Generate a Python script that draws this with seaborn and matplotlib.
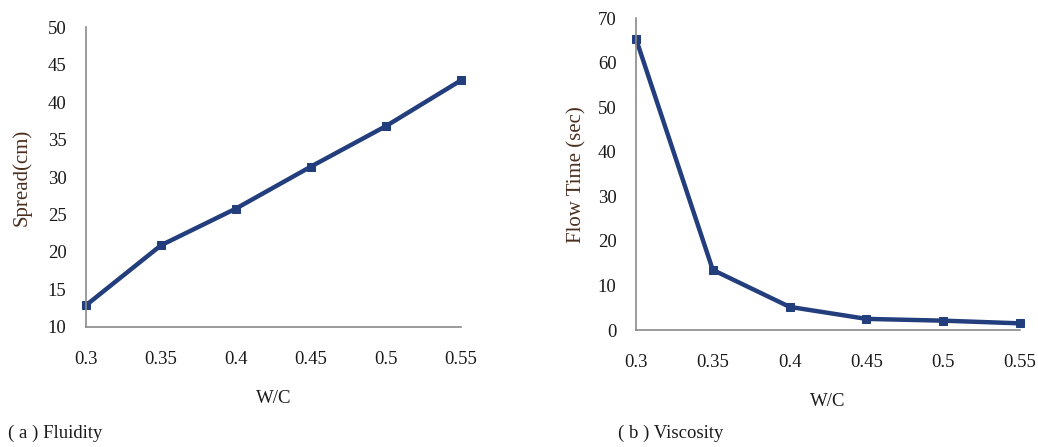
import matplotlib
matplotlib.use("Agg")
import matplotlib.pyplot as plt
import seaborn as sns
import pandas as pd

# Water/cement ratios shared by both panels
wc_ratio = [0.30, 0.35, 0.40, 0.45, 0.50, 0.55]
# (a) flow spread in cm
spread_cm = [12.9, 20.9, 25.8, 31.4, 36.8, 42.9]
# (b) funnel flow time in seconds
flow_time_sec = [65.4, 13.5, 5.2, 2.5, 2.1, 1.5]

x_ticks = [0.3, 0.35, 0.4, 0.45, 0.5, 0.55]
x_tick_labels = ["0.3", "0.35", "0.4", "0.45", "0.5", "0.55"]

sns.set_theme(style="white")
plt.rcParams["font.family"] = ["Liberation Serif", "DejaVu Serif"]

LINE = "#233e7c"
SPINE = "#8a8a8a"
TICKTXT = "#1a1a1a"
YLAB = "#4a2e1e"

fig = plt.figure(figsize=(10.38, 4.47), dpi=100)
ax_a = fig.add_axes([0.0829, 0.2685, 0.3613, 0.671])
ax_b = fig.add_axes([0.6127, 0.2617, 0.3700, 0.6973])

df = pd.DataFrame({"wc": wc_ratio, "spread": spread_cm, "flow": flow_time_sec})

sns.lineplot(data=df, x="wc", y="spread", ax=ax_a, color=LINE, linewidth=3.2,
             marker="s", markersize=6, markeredgecolor=LINE, markerfacecolor=LINE)
sns.lineplot(data=df, x="wc", y="flow", ax=ax_b, color=LINE, linewidth=3.2,
             marker="s", markersize=6, markeredgecolor=LINE, markerfacecolor=LINE)


def style_axes(ax, ylim, yticks, ylabel, ylabelpad):
    ax.set_xlim(0.3, 0.55)
    ax.set_ylim(*ylim)
    ax.set_xticks(x_ticks)
    ax.set_xticklabels(x_tick_labels)
    ax.set_yticks(yticks)
    ax.set_yticklabels([str(v) for v in yticks])
    for side in ("top", "right"):
        ax.spines[side].set_visible(False)
    for side in ("left", "bottom"):
        ax.spines[side].set_color(SPINE)
        ax.spines[side].set_linewidth(1.2)
    ax.tick_params(axis="both", which="major", direction="out", length=5,
                   width=1.2, color=SPINE, labelsize=13.5, labelcolor=TICKTXT)
    ax.tick_params(axis="x", pad=12)
    ax.tick_params(axis="y", pad=9)
    ax.set_xlabel("W/C", fontsize=13.5, color=TICKTXT, labelpad=16)
    ax.set_ylabel(ylabel, fontsize=15, color=YLAB, labelpad=ylabelpad)
    ax.grid(False)
    for line in ax.get_lines():
        line.set_clip_on(False)


style_axes(ax_a, (10, 50), list(range(10, 51, 5)), "Spread(cm)", 12)
style_axes(ax_b, (0, 70), list(range(0, 71, 10)), "Flow Time (sec)", 8)

fig.text(0.008, 0.03, "( a ) Fluidity", fontsize=13.5, color=TICKTXT, ha="left", va="center")
fig.text(0.595, 0.03, "( b ) Viscosity", fontsize=13.5, color=TICKTXT, ha="left", va="center")

fig.savefig("out.png", dpi=100)
